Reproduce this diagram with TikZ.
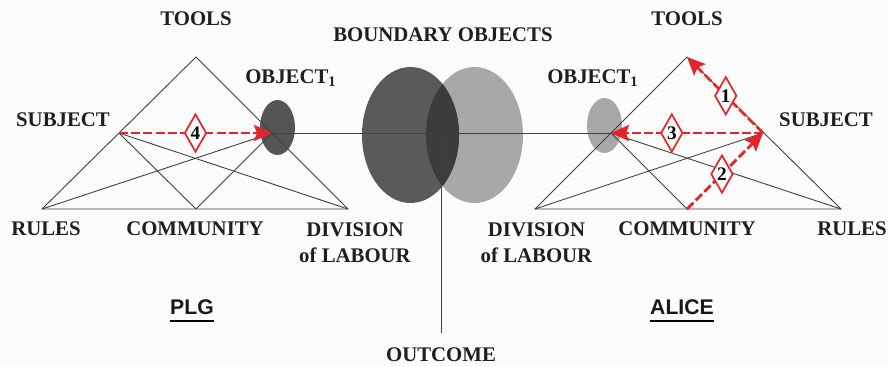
\documentclass[tikz,border=0pt]{standalone}
\usepackage{fontspec}
\setmainfont{Liberation Serif}
\setsansfont{Liberation Sans}
\usetikzlibrary{shapes.geometric,arrows.meta}

\definecolor{arrowred}{HTML}{E3242B}
\definecolor{objdark}{HTML}{5A5A5A}
\definecolor{objlight}{HTML}{A8A8AA}
\definecolor{objover}{HTML}{3C3C3C}

\tikzset{
  lbl/.style={font=\fontsize{10.4}{13}\selectfont\bfseries, inner sep=0pt, align=center, text=black!88},
  team/.style={font=\fontsize{10.6}{12}\selectfont\sffamily\bfseries, inner sep=0pt, text=black!90},
  edge/.style={line width=0.45pt, draw=black!75},
  redarrow/.style={draw=arrowred, line width=1.4pt, dash pattern=on 4.5pt off 1.6pt,
    -{Stealth[length=9pt,width=8pt,inset=1.5pt]}},
  marker/.style={diamond, draw=arrowred, fill=white, line width=0.85pt, inner sep=0pt,
    shape aspect=0.55, minimum width=11pt, minimum height=19pt, solid,
    font=\fontsize{9.6}{10}\selectfont\bfseries, text=black}
}

\begin{document}
\begin{tikzpicture}[x=0.5pt,y=-0.5pt]
        \fill[white!99!black] (0,0) rectangle (888,366);
        \useasboundingbox (0,0) rectangle (888,366);

        % PLG triangle
        \coordinate (tL) at (196,57);
        \coordinate (rL) at (42,209);
        \coordinate (cL) at (196,209);
        \coordinate (dL) at (348,209);
        \coordinate (sL) at (119,133);
        \coordinate (oL) at (272,133);

        % ALICE triangle
        \coordinate (tR) at (687,57);
        \coordinate (dR) at (535,209);
        \coordinate (cR) at (687,209);
        \coordinate (rR) at (841,209);
        \coordinate (sR) at (763,133);
        \coordinate (oR) at (611,133);

        \coordinate (ctr) at (441,133);
        \coordinate (out) at (441,333);

        % boundary objects
        \fill[objlight] (474.5,135) ellipse [x radius=48.5, y radius=68];
        \fill[objdark] (410.5,135) ellipse [x radius=48.5, y radius=68];
        \begin{scope}
          \clip (474.5,135) ellipse [x radius=48.5, y radius=68];
          \fill[objover] (410.5,135) ellipse [x radius=48.5, y radius=68];
        \end{scope}
        \fill[objdark!95!black] (277.5,127.5) ellipse [x radius=17.5, y radius=27.5];
        \fill[objlight] (604.5,125.5) ellipse [x radius=17.5, y radius=27.5];

        \draw[edge] (rL) -- (tL) -- (dL) -- cycle;
        \draw[edge] (sL) -- (cL);
        \draw[edge] (sL) -- (dL);
        \draw[edge] (rL) -- (oL);
        \draw[edge] (cL) -- (oL);

        \draw[edge] (dR) -- (tR) -- (rR) -- cycle;
        \draw[edge] (oR) -- (cR);
        \draw[edge] (oR) -- (rR);
        \draw[edge] (dR) -- (sR);

        \draw[edge] (oL) -- (oR);
        \draw[edge] (ctr) -- (out);

        % numbered transitions
        \draw[redarrow] (sL) -- node[marker, pos=0.5] (m4) {4} (oL);
        \draw[redarrow] (sR) -- node[marker, pos=0.49] (m1) {1} (tR);
        \draw[redarrow] (cR) -- node[marker, pos=0.46] (m2) {2} (sR);
        \draw[redarrow] (sR) -- node[marker, pos=0.6] (m3) {3} (oR);

        \node[lbl] (toolsL) at (196,19) {TOOLS};
        \node[lbl] (toolsR) at (687,19) {TOOLS};
        \node[lbl] (bound) at (443,34.5) {BOUNDARY OBJECTS};
        \node[lbl] (objL) at (291,78) {OBJECT\textsubscript{1}};
        \node[lbl] (objR) at (593,78) {OBJECT\textsubscript{1}};
        \node[lbl] (subjL) at (63,120) {SUBJECT};
        \node[lbl] (subjR) at (826,120) {SUBJECT};
        \node[lbl] (rulesL) at (46,228.5) {RULES};
        \node[lbl] (rulesR) at (852,228.5) {RULES};
        \node[lbl] (commL) at (195,228.5) {COMMUNITY};
        \node[lbl] (commR) at (687,228.5) {COMMUNITY};
        \node[lbl, anchor=north] (divL) at (355,222) {DIVISION\\of LABOUR};
        \node[lbl, anchor=north] (divR) at (536.5,222) {DIVISION\\of LABOUR};
        \node[lbl] (outc) at (441,355) {OUTCOME};

        \node[team] (plg) at (192,307.5) {PLG};
        \node[team] (alice) at (682,307.5) {ALICE};
        \draw[line width=0.9pt] ([yshift=-2.6pt]plg.south west) -- ([yshift=-2.6pt]plg.south east);
        \draw[line width=0.9pt] ([yshift=-2.6pt]alice.south west) -- ([yshift=-2.6pt]alice.south east);
    \end{tikzpicture}
\end{document}
